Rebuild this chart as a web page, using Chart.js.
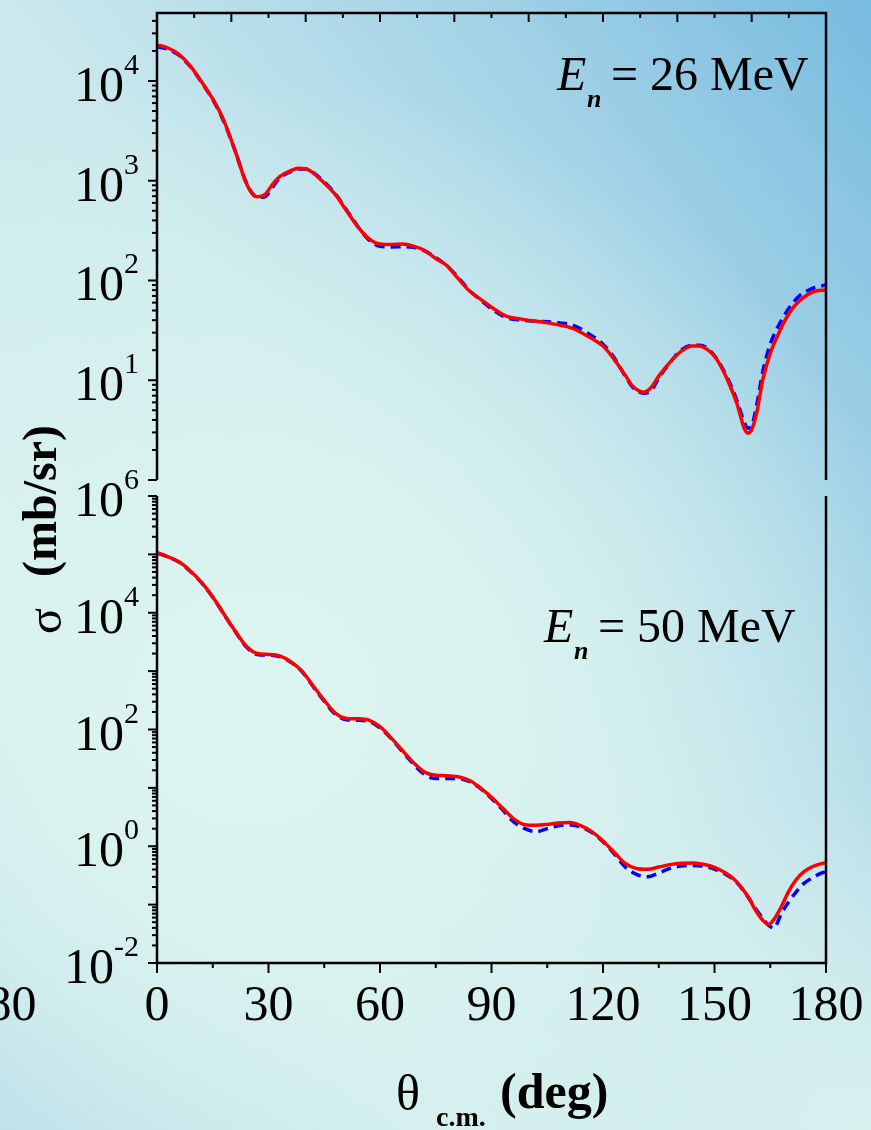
<!DOCTYPE html>
<html>
<head>
<meta charset="utf-8">
<script src="https://cdn.jsdelivr.net/npm/chart.js@4/dist/chart.umd.min.js"></script>
<style>
html, body { margin: 0; padding: 0; }
body {
  width: 871px; height: 1130px; overflow: hidden; position: relative;
  background:
    radial-gradient(ellipse 45% 30% at 100% 100%, rgba(216,241,238,0.9) 0%, rgba(216,241,238,0) 100%),
    radial-gradient(ellipse 75% 55% at 30% 62%, rgba(220,245,240,1) 0%, rgba(218,243,239,0.85) 40%, rgba(218,243,239,0) 100%),
    linear-gradient(to bottom left, #77bbdf 0%, #a6d4e7 25%, #cbe9ed 50%, #d2eeee 75%, #b3d9e8 100%);
}
canvas { position: absolute; left: 0; top: 0; }
</style>
</head>
<body>
<canvas id="panel26" width="871" height="1130"></canvas>
<canvas id="panel50" width="871" height="1130"></canvas>
<script>
// angular distributions, theta in degrees (c.m.), sigma in mb/sr
var theta26 = [0, 3, 6, 9, 12, 15, 18, 21, 24, 26, 27, 29, 31, 33, 36, 38, 40, 42, 45, 48,
  51, 54, 57, 60, 63, 66, 69, 72, 75, 78, 81, 84, 87, 90, 94, 98, 103, 108, 112, 116,
  120, 123, 126, 128, 131, 133, 135, 138, 141, 144, 146, 148, 150, 152, 154, 156, 158, 159, 160, 161.5,
  163, 165, 167, 169, 171, 173, 175, 177, 180];
var solid26 = [23000, 21400, 18400, 14100, 9800, 6600, 4000, 2000, 950, 715, 690, 725, 910, 1100, 1260, 1330, 1320, 1200, 950, 725,
  500, 347, 263, 232, 229, 232, 221, 200, 166, 141, 105, 79, 65, 54, 44, 41, 38.5, 36, 33, 27.5,
  22, 16.2, 11.2, 8.7, 7.6, 8.5, 11, 15.1, 19.5, 22.1, 22.1, 20.4, 17.4, 13.2, 9.1, 5.9, 3.3, 2.95, 3.2, 5.0,
  10.2, 18.6, 28, 40, 52.5, 63, 72, 78, 80];
var dashed26 = [22000, 20800, 18000, 13900, 9700, 6500, 3900, 2000, 960, 720, 680, 690, 850, 1060, 1230, 1310, 1310, 1210, 970, 740,
  510, 350, 255, 220, 217, 218, 215, 198, 170, 140, 108, 80, 64, 52, 42.5, 40, 39, 37.6, 35.5, 29.5,
  23, 16.8, 11.0, 8.5, 7.4, 7.9, 10.5, 15.0, 20, 22.4, 22.4, 21, 17.6, 13.5, 9.6, 6.3, 3.8, 3.3, 3.5, 6.0,
  12.3, 23, 34, 46, 59, 71, 79, 85, 90];

var theta50 = [0, 3, 6, 9, 12, 15, 18, 21, 24, 27, 30, 33, 36, 39, 42, 45, 48, 51, 54, 57,
  60, 63, 66, 69, 72, 75, 78, 81, 84, 87, 90, 93, 96, 99, 102, 105, 108, 111, 114, 117,
  120, 123, 126, 129, 132, 135, 138, 141, 144, 147, 150, 153, 156, 159, 161, 163, 164.5, 166, 168, 170,
  172, 174, 176, 178, 180];
var solid50 = [107000, 91000, 74000, 52000, 33000, 18600, 9500, 4900, 2700, 2000, 1930, 1820, 1450, 1000, 560, 316, 190, 155, 153, 145,
  112, 72, 44, 27, 18.6, 16.4, 16.2, 15.5, 13.5, 10, 6.9, 4.5, 2.95, 2.34, 2.29, 2.37, 2.51, 2.54, 2.26, 1.78,
  1.23, 0.79, 0.51, 0.417, 0.403, 0.44, 0.484, 0.513, 0.519, 0.49, 0.436, 0.347, 0.245, 0.138, 0.081, 0.054, 0.0457, 0.056, 0.093, 0.17,
  0.269, 0.363, 0.437, 0.49, 0.525];
var dashed50 = [105000, 90000, 73000, 51000, 32500, 18400, 9400, 4800, 2600, 1930, 1880, 1780, 1420, 980, 545, 305, 182, 147, 144, 138,
  106, 70, 42, 25.5, 17, 14.5, 14.5, 14.5, 12.9, 9.8, 6.6, 4.2, 2.6, 2.0, 1.78, 2.0, 2.24, 2.34, 2.14, 1.72,
  1.2, 0.74, 0.44, 0.33, 0.30, 0.347, 0.417, 0.457, 0.468, 0.457, 0.407, 0.33, 0.24, 0.135, 0.087, 0.058, 0.0447, 0.04, 0.071, 0.112,
  0.166, 0.229, 0.28, 0.33, 0.37];

// axis ranges and labelled decades
var range26 = [1, 48000];
var range50 = [0.01, 1e6];
var powers26 = [1, 2, 3, 4];
var powers50 = [-2, 0, 2, 4, 6];
var thetaLabels = [0, 30, 60, 90, 120, 150, 180];

var SERIF = '"Liberation Serif", "Times New Roman", serif';

function points(xs, ys) {
  return xs.map(function(t, i) { return {x: t, y: ys[i]}; });
}

function seg(ctx, x1, y1, x2, y2) {
  ctx.beginPath();
  ctx.moveTo(x1, y1);
  ctx.lineTo(x2, y2);
  ctx.stroke();
}

// outward ticks on a log axis: long ones on decades, short on 2..9
function logTicks(ctx, scale, x) {
  var lo = Math.floor(Math.log10(scale.min));
  var hi = Math.ceil(Math.log10(scale.max));
  ctx.lineWidth = 2;
  for (var p = lo; p <= hi; p++) {
    for (var m = 1; m < 10; m++) {
      var v = m * Math.pow(10, p);
      if (v < scale.min * 0.999 || v > scale.max * 1.001) continue;
      var py = scale.getPixelForValue(v);
      seg(ctx, x - (m === 1 ? 9 : 5), py, x, py);
    }
  }
}

// "10" with the exponent raised, right edge at xRight
function powLabel(ctx, xRight, py, p) {
  var sup = String(p);
  ctx.textAlign = 'left';
  ctx.textBaseline = 'alphabetic';
  ctx.font = '30px ' + SERIF;
  var sw = ctx.measureText(sup).width;
  ctx.fillText(sup, xRight - sw, py - 7);
  ctx.font = '50px ' + SERIF;
  var bw = ctx.measureText('10').width;
  ctx.fillText('10', xRight - sw - bw, py + 20);
}

function energyLabel(ctx, x, base, value) {
  ctx.textAlign = 'left';
  ctx.textBaseline = 'alphabetic';
  ctx.font = 'italic 48px ' + SERIF;
  ctx.fillText('E', x, base);
  ctx.font = 'italic bold 26px ' + SERIF;
  ctx.fillText('n', x + 30, base + 17);
  ctx.font = '48px ' + SERIF;
  ctx.fillText('= ' + value + ' MeV', x + 54, base);
}

var framePlugin = {
  id: 'frame',
  afterDraw: function(chart, args, opts) {
    var ctx = chart.ctx, a = chart.chartArea;
    var xs = chart.scales.x, ys = chart.scales.y;
    ctx.save();
    ctx.strokeStyle = '#000';
    ctx.fillStyle = '#000';
    ctx.lineWidth = 2.5;

    if (opts.upper) {
      ctx.beginPath();
      ctx.moveTo(a.left, a.bottom);
      ctx.lineTo(a.left, a.top);
      ctx.lineTo(a.right, a.top);
      ctx.lineTo(a.right, a.bottom);
      ctx.stroke();
      // ticks hanging from the top edge
      ctx.lineWidth = 2;
      for (var t = 10; t < 180; t += 10) {
        var px = xs.getPixelForValue(t);
        seg(ctx, px, a.top, px, a.top + (t % 20 === 0 ? 9 : 5));
      }
    } else {
      ctx.beginPath();
      ctx.moveTo(a.left, a.top);
      ctx.lineTo(a.left, a.bottom);
      ctx.lineTo(a.right, a.bottom);
      ctx.lineTo(a.right, a.top);
      ctx.stroke();
      ctx.lineWidth = 2;
      for (var t2 = 0; t2 <= 180; t2 += 15) {
        var px2 = xs.getPixelForValue(t2);
        seg(ctx, px2, a.bottom, px2, a.bottom + (t2 % 30 === 0 ? 10 : 5));
      }
      ctx.font = '50px ' + SERIF;
      ctx.textAlign = 'center';
      ctx.textBaseline = 'alphabetic';
      thetaLabels.forEach(function(t3) {
        ctx.fillText(String(t3), xs.getPixelForValue(t3), a.bottom + 57);
      });
      // tail of the neighbouring panel's axis
      ctx.fillText('180', -1, a.bottom + 57);

      // x title
      ctx.textAlign = 'left';
      ctx.font = '50px ' + SERIF;
      ctx.fillText('\u03b8', 396, 1110);
      ctx.font = 'bold 28px ' + SERIF;
      ctx.fillText('c.m.', 436, 1126);
      ctx.font = 'bold 50px ' + SERIF;
      ctx.fillText('(deg)', 500, 1108);

      // y title, reading upwards
      ctx.save();
      ctx.translate(56, 501);
      ctx.rotate(-Math.PI / 2);
      ctx.textAlign = 'center';
      ctx.font = 'bold 48px ' + SERIF;
      ctx.fillText('(mb/sr)', 0, 0);
      ctx.restore();
      ctx.save();
      ctx.translate(61, 621);
      ctx.rotate(-Math.PI / 2);
      ctx.textAlign = 'center';
      ctx.font = '48px ' + SERIF;
      ctx.fillText('\u03c3', 0, 0);
      ctx.restore();
    }

    logTicks(ctx, ys, a.left);
    ctx.fillStyle = '#000';
    opts.powers.forEach(function(p) {
      powLabel(ctx, 139, ys.getPixelForValue(Math.pow(10, p)), p);
    });
    energyLabel(ctx, a.right - opts.labelDx, a.top + opts.labelDy, opts.energy);
    ctx.restore();
  }
};

function makePanel(id, thetas, solid, dashed, range, pad, frameOpts) {
  var ctx = document.getElementById(id).getContext('2d');
  return new Chart(ctx, {
    type: 'line',
    data: {
      datasets: [{
        label: 'solid',
        data: points(thetas, solid),
        borderColor: '#ff0000',
        borderWidth: 3.5,
        fill: false
      }, {
        label: 'dashed',
        data: points(thetas, dashed),
        borderColor: '#0000ff',
        borderWidth: 3.5,
        borderDash: [10, 6],
        fill: false
      }]
    },
    options: {
      responsive: false,
      animation: false,
      layout: { padding: pad },
      elements: {
        point: { radius: 0 },
        line: { cubicInterpolationMode: 'monotone' }
      },
      plugins: {
        legend: { display: false },
        tooltip: { enabled: false },
        frame: frameOpts
      },
      scales: {
        x: { type: 'linear', min: 0, max: 180, display: false },
        y: { type: 'logarithmic', min: range[0], max: range[1], display: false }
      }
    },
    plugins: [framePlugin]
  });
}

makePanel('panel26', theta26, solid26, dashed26, range26,
  { left: 157, right: 45, top: 13, bottom: 650 },
  { upper: true, powers: powers26, energy: '26', labelDx: 269, labelDy: 77 });
makePanel('panel50', theta50, solid50, dashed50, range50,
  { left: 157, right: 45, top: 496, bottom: 167 },
  { upper: false, powers: powers50, energy: '50', labelDx: 282, labelDy: 146 });
</script>
</body>
</html>
